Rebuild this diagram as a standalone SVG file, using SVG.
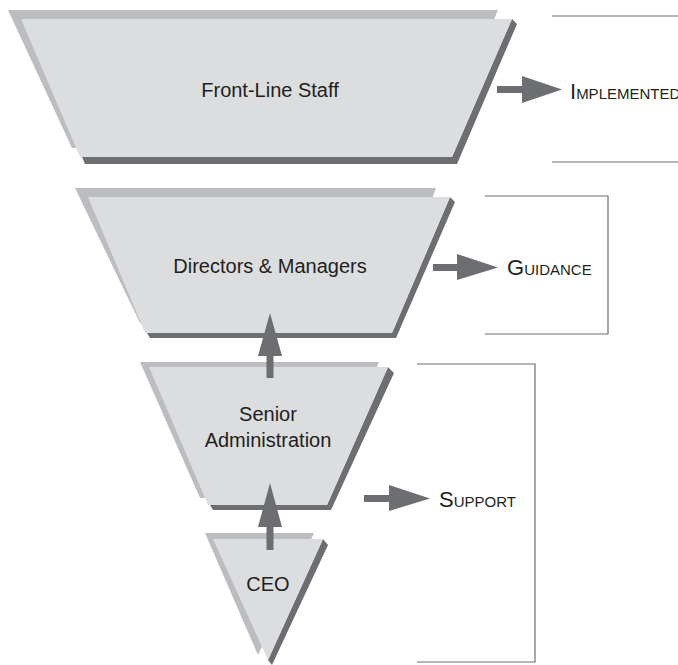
<svg xmlns="http://www.w3.org/2000/svg" width="678" height="665" viewBox="0 0 678 665">
<style>
.back{fill:#bcbdc0}
.shadow{fill:#6d6e71}
.main{fill:#dcdddf}
.lbl{font-family:"Liberation Sans",Arial,sans-serif;font-size:20px;fill:#231f20;text-anchor:middle}
.sc{font-family:"Liberation Sans",Arial,sans-serif;font-size:15px;fill:#231f20}
.big{font-size:22px}
.br{fill:none;stroke:#6d6e71;stroke-width:1.2}
.arr{fill:#6d6e71}
</style>
<rect width="678" height="665" fill="#ffffff"/>
<g id="front-line-staff">
<polygon class="back" points="8,10 498,10 440,148 72,148"/>
<polygon class="shadow" points="517,24 457,164 85,164 82,157 452,157 512,19"/>
<polygon class="main" points="21,19 512,19 452,157 80,157"/>
<text class="lbl" x="270" y="97">Front-Line Staff</text>
</g>
<g id="directors-managers">
<polygon class="back" points="75,188 436,188 385,323 140,323"/>
<polygon class="shadow" points="455,202 396,338 150,338 147,333 392,333 450,197"/>
<polygon class="main" points="88,197 450,197 392,333 145,333"/>
<text class="lbl" x="270" y="273">Directors &amp; Managers</text>
</g>
<g id="senior-administration">
<polygon class="back" points="140,362 379,362 322,498 200,498"/>
<polygon class="shadow" points="394,373 331,510 213,510 210,505 327,505 388,367"/>
<polygon class="main" points="149,367 388,367 327,505 208,505"/>
<text class="lbl" x="268" y="421">Senior</text>
<text class="lbl" x="268" y="447">Administration</text>
</g>
<g id="ceo">
<polygon class="back" points="205,533 314,533 258,655"/>
<polygon class="shadow" points="328,545 272,665 268,660 323,539"/>
<polygon class="main" points="213,539 323,539 268,660"/>
<text class="lbl" x="268" y="591">CEO</text>
</g>
<g id="implemented">
<text class="sc" x="570" y="99"><tspan class="big">I</tspan>MPLEMENTED</text>
</g>
<g id="guidance">
<text class="sc" x="507" y="275"><tspan class="big">G</tspan>UIDANCE</text>
</g>
<g id="support">
<text class="sc" x="439" y="507"><tspan class="big">S</tspan>UPPORT</text>
</g>
<g id="connectors">
<rect class="arr" x="497" y="86" width="27" height="7"/>
<polygon class="arr" points="522,76 562,89.5 522,103"/>
<rect class="arr" x="433" y="264" width="26" height="7"/>
<polygon class="arr" points="457,254 498,267.5 457,280"/>
<rect class="arr" x="364" y="495" width="27" height="7"/>
<polygon class="arr" points="389,485 430,498.5 389,511"/>
<rect class="arr" x="266.5" y="353" width="7" height="25"/>
<polygon class="arr" points="258,356 270,313 282,356"/>
<rect class="arr" x="266.5" y="524" width="7" height="26"/>
<polygon class="arr" points="258,527 270,483 282,527"/>
<path class="br" d="M552,16 H678 M552,162 H678"/>
<path class="br" d="M485,196 H608 V334 H485"/>
<path class="br" d="M417,364 H535 V662 H417"/>
</g>
</svg>
